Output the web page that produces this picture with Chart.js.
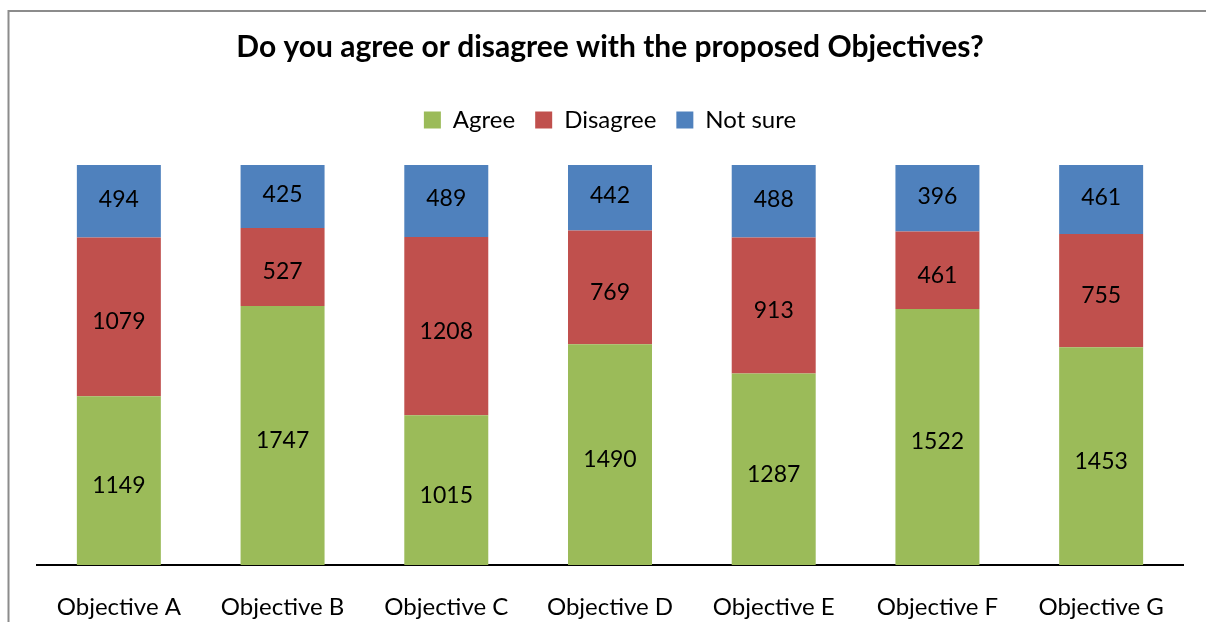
<!DOCTYPE html>
<html>
<head>
<meta charset="utf-8">
<script src="https://cdn.jsdelivr.net/npm/chart.js@4"></script>
<style>
  html, body { margin: 0; padding: 0; background: #fff; }
  #wrap { width: 1206px; height: 622px; }
</style>
</head>
<body>
<div id="wrap"><canvas id="myChart" width="1206" height="622"></canvas></div>
<script>
var objectives = ['Objective A', 'Objective B', 'Objective C', 'Objective D', 'Objective E', 'Objective F', 'Objective G'];
var agree    = [1149, 1747, 1015, 1490, 1287, 1522, 1453];
var disagree = [1079,  527, 1208,  769,  913,  461,  755];
var notSure  = [ 494,  425,  489,  442,  488,  396,  461];

var totals = objectives.map(function (o, i) { return agree[i] + disagree[i] + notSure[i]; });
function share(arr) {
  return arr.map(function (v, i) { return v / totals[i] * 100; });
}

var FONT = 'Lato, "Open Sans", sans-serif';

// grey frame around the chart (open at the right and bottom edges)
var frame = {
  id: 'frame',
  afterInit: function (chart) {
    // leave some room between the legend and the bars
    var lg = chart.legend;
    var fit = lg.fit;
    lg.fit = function () {
      fit.call(this);
      this.height += 23;
    };
  },
  beforeDraw: function (chart) {
    var c = chart.ctx;
    c.save();
    c.fillStyle = '#fff';
    c.fillRect(0, 0, chart.width, chart.height);
    c.strokeStyle = '#8c8c8c';
    c.lineWidth = 2;
    c.beginPath();
    c.moveTo(8.5, chart.height + 5);
    c.lineTo(8.5, 11);
    c.lineTo(chart.width + 5, 11);
    c.stroke();
    c.restore();
  }
};

// raw counts written in the middle of each segment
var labelShift = [5, 5, -2];
var segLabels = {
  id: 'segLabels',
  afterDatasetsDraw: function (chart) {
    var c = chart.ctx;
    c.save();
    c.font = '23px ' + FONT;
    c.fillStyle = '#000';
    c.textAlign = 'center';
    c.textBaseline = 'middle';
    chart.data.datasets.forEach(function (ds, d) {
      chart.getDatasetMeta(d).data.forEach(function (bar, i) {
        var mid = (bar.y + bar.base) / 2;
        c.fillText(String(ds.raw[i]), bar.x, mid + labelShift[d]);
      });
    });
    c.restore();
  }
};

new Chart(document.getElementById('myChart'), {
  type: 'bar',
  data: {
    labels: objectives,
    datasets: [{
      label: 'Agree',
      data: share(agree),
      raw: agree,
      backgroundColor: '#9BBB59'
    }, {
      label: 'Disagree',
      data: share(disagree),
      raw: disagree,
      backgroundColor: '#C0504D'
    }, {
      label: 'Not sure',
      data: share(notSure),
      raw: notSure,
      backgroundColor: '#4F81BD'
    }]
  },
  options: {
    responsive: false,
    animation: false,
    layout: { padding: { left: 37, right: 23, top: 29, bottom: 0 } },
    datasets: { bar: { categoryPercentage: 1, barPercentage: 0.513 } },
    plugins: {
      title: {
        display: true,
        text: 'Do you agree or disagree with the proposed Objectives?',
        color: '#000',
        font: { family: FONT, size: 30, weight: 'bold' },
        padding: { top: 0, bottom: 23 }
      },
      legend: {
        display: true,
        labels: {
          color: '#000',
          boxWidth: 17,
          boxHeight: 17,
          padding: 20,
          font: { family: FONT, size: 24 }
        }
      },
      tooltip: { enabled: false }
    },
    scales: {
      x: {
        stacked: true,
        grid: { display: false },
        border: { display: true, color: '#000', width: 2 },
        ticks: { color: '#000', padding: 20, font: { family: FONT, size: 24 } },
        afterFit: function (scale) { scale.height = 57; }
      },
      y: {
        stacked: true,
        display: false,
        min: 0,
        max: 100
      }
    }
  },
  plugins: [frame, segLabels]
});
</script>
</body>
</html>
